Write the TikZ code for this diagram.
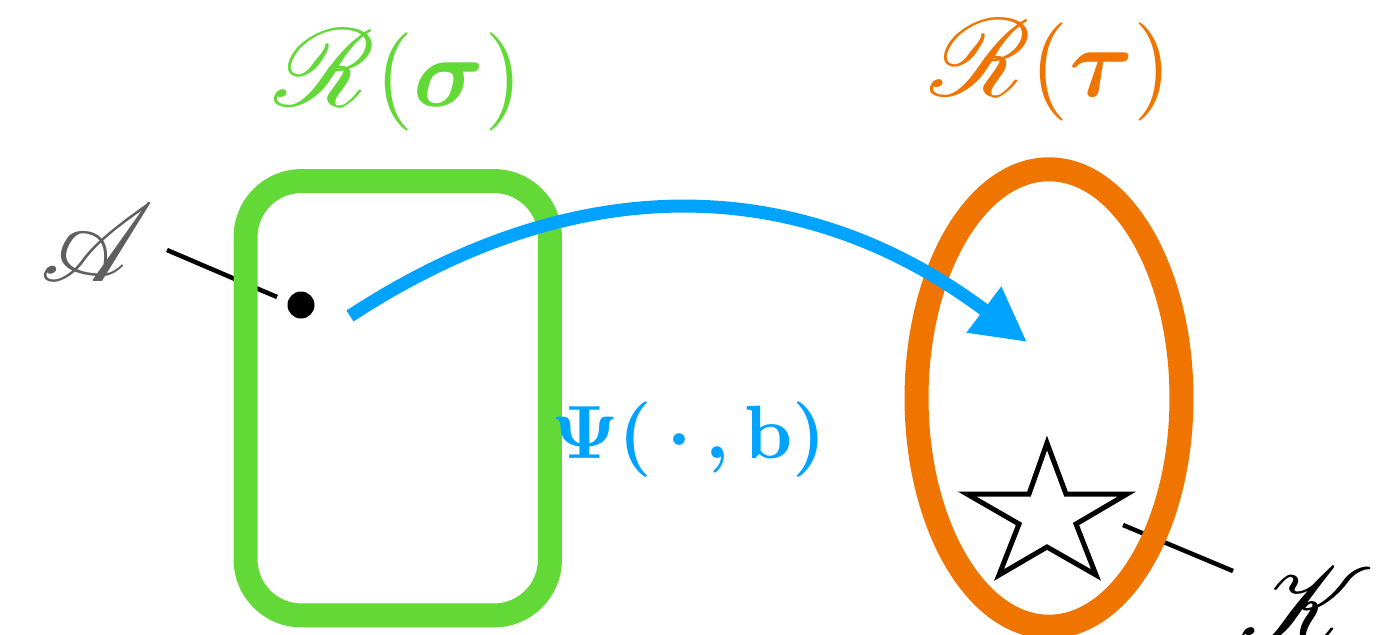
\documentclass[tikz,border=0pt]{standalone}
\usepackage{graphicx}
\usepackage{amsmath,amssymb}
\usepackage{mathrsfs}
\usetikzlibrary{arrows.meta,shapes.geometric}
\definecolor{cgreen}{RGB}{99,217,56}
\definecolor{corange}{RGB}{240,116,0}
\definecolor{cblue}{RGB}{0,163,255}
\definecolor{cgray}{RGB}{95,95,95}
\newcommand{\bigtxt}[1]{\scalebox{5.6}{\fontsize{10}{12}\selectfont #1}}
\newcommand{\midtxt}[1]{\scalebox{4.3}{\fontsize{10}{12}\selectfont #1}}
\newcommand{\scrlet}[1]{\scalebox{1.12}{$\mathscr{#1}$}}
\begin{document}
\begin{tikzpicture}[x=0.02cm,y=-0.02cm,
  biglbl/.style={inner sep=0pt, anchor=base},
  pointer/.style={draw=black, line width=0.09cm},
  region/.style={line width=0.48cm, inner sep=0pt}]
\useasboundingbox (0,0) rectangle (1399,635);

% pointer lines (behind the regions)
\coordinate (a1) at (167,250);
\coordinate (a2) at (277,297);
\coordinate (k1) at (1123,525);
\coordinate (k2) at (1233,571);
\draw[pointer] (a1) -- (a2);
\draw[pointer] (k1) -- (k2);

% regions
\node[region, draw=cgreen, rectangle, rounded corners=1.12cm,
      minimum width=6.09cm, minimum height=8.69cm] (rs) at (397.75,398.25) {};
\node[region, draw=corange, ellipse,
      minimum width=5.3cm, minimum height=9.15cm] (rt) at (1049,398) {};

% point
\node[circle, fill=black, minimum size=0.54cm, inner sep=0pt] (dot) at (301,305) {};

% star
\coordinate (st) at (1047,510);
\draw[line width=0.1cm, miter limit=10, fill=white]
  (1047,443) -- (1066,494) -- (1127,494) -- (1076,524) -- (1096,575)
  -- (1047,547) -- (999,575) -- (1019,524) -- (967,494) -- (1029,494) -- cycle;

% map arrow
\coordinate (m1) at (350,316);
\coordinate (m2) at (1027,342);
\draw[cblue, line width=0.26cm, -{Triangle[length=1.08cm,width=1.08cm]}]
  (m1) .. controls (568,173) and (795,167.4) .. (m2);

% labels
\node[biglbl, text=cgreen] (lsigma) at (399,107) {\bigtxt{\scrlet{R}$(\boldsymbol{\sigma})$}};
\node[biglbl, text=corange] (ltau) at (1051,96) {\bigtxt{\scrlet{R}$(\boldsymbol{\tau})$}};
\node[biglbl, text=cgray] (lA) at (97,281) {\bigtxt{\scrlet{A}}};
\node[biglbl, text=black] (lK) at (1306,644) {\bigtxt{\scrlet{K}}};
\node[biglbl, text=cblue] (lpsi) at (689,458) {\midtxt{\boldmath$\Psi(\,\cdot\,,\mathbf{b})$}};
\end{tikzpicture}
\end{document}
